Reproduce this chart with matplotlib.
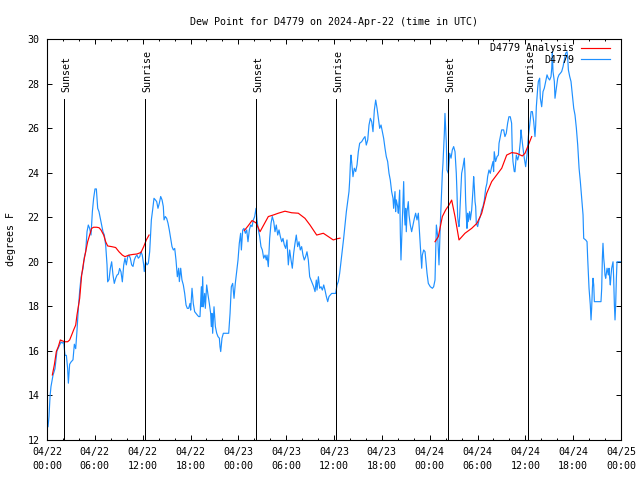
import matplotlib
matplotlib.use('Agg')
import matplotlib.pyplot as plt
import matplotlib.dates as mdates
import numpy as np
from datetime import datetime

plt.rcParams['font.family'] = ['DejaVu Sans Mono', 'DejaVu Sans']
plt.rcParams['font.size'] = 7.2

start = datetime(2024, 4, 22)

# station observations: hours after 04/22 00:00 UTC, dew point in F
blue_h = [
    0.13, 0.25, 0.38, 0.5, 0.75, 1.0, 1.25, 1.5, 1.76, 1.92, 2.09, 2.26, 2.43, 2.59, 2.68, 2.84,
    3.01, 3.26, 3.43, 3.6, 3.76, 3.93, 4.1, 4.27, 4.52, 4.68, 4.85, 5.02, 5.18, 5.35, 5.52, 5.69,
    5.85, 6.02, 6.19, 6.27, 6.36, 6.52, 6.69, 6.86, 7.02, 7.19, 7.36, 7.53, 7.61, 7.78, 7.94, 8.11,
    8.28, 8.44, 8.61, 8.78, 8.95, 9.11, 9.28, 9.45, 9.62, 9.78, 9.95, 10.12, 10.29, 10.45, 10.62,
    10.79, 10.95, 11.12, 11.29, 11.45, 11.63, 11.79, 11.95, 12.13, 12.2, 12.37, 12.54, 12.71, 12.88,
    13.09, 13.25, 13.42, 13.59, 13.76, 13.92, 14.09, 14.26, 14.43, 14.59, 14.68, 14.84, 15.01, 15.18,
    15.34, 15.51, 15.68, 15.85, 16.02, 16.18, 16.35, 16.52, 16.6, 16.77, 16.93, 17.1, 17.27, 17.44,
    17.6, 17.77, 17.94, 18.02, 18.19, 18.35, 18.52, 18.69, 18.85, 19.02, 19.19, 19.36, 19.44, 19.53,
    19.61, 19.78, 19.86, 20.03, 20.2, 20.36, 20.53, 20.61, 20.7, 20.78, 20.95, 21.12, 21.29, 21.45,
    21.62, 21.7, 21.79, 21.95, 22.12, 22.45, 22.79, 22.96, 23.12, 23.29, 23.46, 23.62, 23.79, 23.96,
    24.12, 24.29, 24.38, 24.55, 24.71, 24.88, 25.05, 25.21, 25.38, 25.55, 25.72, 25.88, 26.05,
    26.22, 26.34, 26.51, 26.68, 26.84, 27.01, 27.18, 27.35, 27.51, 27.6, 27.76, 27.93, 28.1, 28.26,
    28.44, 28.6, 28.76, 28.94, 29.1, 29.27, 29.44, 29.6, 29.77, 29.94, 30.1, 30.27, 30.44, 30.61,
    30.77, 30.94, 31.11, 31.27, 31.44, 31.61, 31.77, 31.94, 32.11, 32.27, 32.44, 32.61, 32.78, 32.95,
    33.12, 33.28, 33.45, 33.62, 33.78, 33.87, 34.04, 34.2, 34.37, 34.54, 34.71, 34.87, 35.04, 35.21,
    35.37, 35.54, 35.71, 35.96, 36.21,
    36.38, 36.54, 36.71, 36.88, 37.04, 37.21, 37.38, 37.55, 37.72, 37.88, 37.97, 38.05, 38.13, 38.21,
    38.38, 38.55, 38.72, 38.89, 39.05, 39.22, 39.47, 39.72, 39.89, 40.05, 40.23, 40.39, 40.56, 40.73,
    40.89, 41.06, 41.23, 41.4, 41.56, 41.73, 41.9, 42.06, 42.23, 42.4, 42.56, 42.73, 42.9, 43.06,
    43.23, 43.4, 43.48, 43.65, 43.73, 43.81, 43.98, 44.07, 44.24, 44.32, 44.4, 44.49, 44.57, 44.74,
    44.82, 44.91, 44.99, 45.07, 45.16, 45.32, 45.41, 45.57, 45.74, 45.91, 46.08, 46.24, 46.41, 46.58,
    46.74, 46.91, 47.0, 47.08, 47.25, 47.42,
    47.67, 47.83, 48.08, 48.34, 48.5, 48.67, 48.84, 49.01, 49.17, 49.26, 49.34, 49.51, 49.59, 49.67,
    49.84, 49.92, 50.01, 50.09, 50.17, 50.34, 50.51, 50.68, 50.84, 51.01, 51.18, 51.34, 51.43, 51.51,
    51.6, 51.68, 51.76, 51.85, 51.93, 52.01, 52.18, 52.35, 52.43, 52.51, 52.6, 52.68, 52.76, 52.84,
    53.01, 53.1, 53.27, 53.43, 53.52, 53.6, 53.69, 53.77, 53.85, 54.02, 54.19, 54.36, 54.52, 54.69,
    54.86, 55.03, 55.18, 55.27, 55.44, 55.6, 55.78, 55.94, 56.02, 56.1, 56.27, 56.45, 56.62, 56.7,
    56.86, 57.03, 57.28, 57.44, 57.61, 57.78, 57.94, 58.11, 58.28, 58.36, 58.45, 58.53, 58.61,
    58.7, 58.87, 59.04, 59.2, 59.37, 59.46, 59.54, 59.71, 59.87, 60.04, 60.21, 60.38, 60.55, 60.72,
    60.88, 61.05, 61.21, 61.3, 61.38, 61.55, 61.63, 61.8, 61.88, 62.05, 62.22, 62.38, 62.55, 62.72,
    62.88, 63.05, 63.22, 63.31, 63.39, 63.47, 63.64, 63.72, 63.89, 64.06, 64.22, 64.39, 64.56, 64.73,
    64.9, 65.06, 65.23, 65.32, 65.4, 65.57, 65.73, 65.9, 66.07, 66.23, 66.4, 66.57, 66.74, 66.9,
    67.07, 67.24, 67.32, 67.57, 67.74, 67.82, 67.9, 67.99, 68.15, 68.24, 68.32, 68.41, 68.49, 68.58,
    68.66, 68.83, 69.16, 69.49, 69.58, 69.66, 69.74, 69.83, 69.91, 69.99, 70.08, 70.25, 70.41, 70.5,
    70.58, 70.66, 70.75, 70.83, 71.0, 71.08, 71.17, 71.25, 71.33, 71.42, 71.5, 71.67, 71.92,
]
blue_v = [
    12.6, 13.05, 13.95, 14.4, 14.9, 15.2, 16.0, 16.2, 16.4, 16.35, 16.4, 15.8, 15.8, 15.2, 14.55, 15.4,
    15.5, 15.6, 16.3, 16.1, 16.9, 17.9, 18.7, 19.3, 19.7, 20.2, 20.45, 21.35, 21.65, 21.5, 21.2, 22.25,
    22.85, 23.27, 23.27, 22.85, 22.4, 22.25, 21.95, 21.65, 21.35, 21.2, 20.75, 19.86, 19.1, 19.2, 19.7, 20.0,
    19.4, 19.03, 19.25, 19.4, 19.45, 19.7, 19.55, 19.1, 19.85, 20.16, 19.86, 20.23, 20.3, 20.16, 19.86,
    19.79, 20.08, 20.23, 20.3, 20.16, 20.23, 20.45, 20.3, 19.86, 19.56, 20.0, 19.86, 19.93, 20.45,
    21.88, 22.33, 22.85, 22.78, 22.7, 22.4, 22.63, 22.93, 22.78, 22.48, 21.88, 22.03, 21.95, 21.73,
    21.43, 21.05, 20.68, 20.53, 20.6, 20.08, 19.33, 19.71, 19.11, 19.71, 19.18, 18.96, 18.58, 18.06,
    17.91, 17.91, 18.13, 17.83, 18.81, 18.13, 17.76, 17.68, 17.61, 17.54, 17.54, 18.88, 17.98, 19.33,
    17.98, 18.58, 17.91, 18.96, 18.51, 18.13, 17.68, 17.09, 17.68, 16.79, 17.98, 17.09, 16.79, 16.64,
    16.57, 16.19, 15.97, 16.57, 16.79, 16.79, 16.79, 17.68, 18.88, 19.03, 18.36, 19.03, 19.56, 20.08,
    20.83, 21.28, 20.53, 21.43, 21.5, 21.28, 21.43, 20.9, 21.43, 21.65, 21.58, 21.88, 22.03,
    22.4, 21.88, 21.43, 21.13, 20.68, 20.53, 20.16, 20.3, 20.08, 20.3, 19.78, 21.05, 21.73, 22.03,
    21.8, 21.35, 21.65, 21.2, 21.43, 21.13, 20.9, 21.05, 20.75, 20.6, 20.98, 19.86, 20.53, 20.08,
    19.71, 20.38, 20.83, 21.2, 20.68, 20.9, 20.53, 20.68, 20.3, 20.08, 20.23, 20.45, 20.08, 19.33,
    19.18, 19.03, 18.88, 18.66, 19.18, 18.73, 19.33, 18.81, 18.88, 18.73, 18.96, 18.73, 18.44, 18.21,
    18.44, 18.51, 18.58, 18.58, 18.58,
    18.96, 19.11, 19.48, 20.0, 20.53, 21.05, 21.65, 22.25, 22.7, 23.15, 23.67, 24.35, 24.79, 24.5,
    23.82, 24.2, 24.05, 24.35, 24.94, 25.32, 25.39, 25.54, 25.62, 25.24, 25.47, 26.14, 26.44, 26.29,
    25.84, 26.81, 27.26, 26.89, 26.44, 25.99, 26.14, 25.84, 25.54, 25.09, 24.72, 24.5, 23.97, 23.67,
    23.15, 22.85, 22.4, 23.15, 22.25, 22.78, 22.48, 22.18, 23.22, 21.28, 20.08, 21.05, 21.8, 23.6,
    22.25, 21.65, 22.4, 21.35, 22.25, 22.7, 22.1, 21.65, 21.35, 21.65, 21.95, 22.18, 21.88, 22.18,
    21.2, 20.23, 19.71, 20.3, 20.53, 20.45,
    19.48, 19.03, 18.88, 18.81, 18.88, 19.18, 21.65, 21.13, 19.86, 20.9, 21.73, 23.22, 23.97, 24.42,
    25.77, 26.66, 26.0, 25.32, 24.12, 23.97, 24.87, 24.65, 25.02, 25.17, 24.94, 23.97, 23.07, 22.03,
    21.73, 21.58, 22.03, 22.77, 23.37, 23.97, 24.27, 24.65, 23.97, 22.77, 22.03, 21.5, 22.18, 21.8,
    22.25, 21.88, 22.33, 23.22, 23.82, 23.37, 22.7, 22.48, 21.73, 21.58, 21.88, 22.03, 22.33, 22.48,
    22.77, 23.3, 23.52, 23.82, 24.12, 23.97, 24.27, 24.5, 24.05, 24.94, 24.5, 24.72, 24.79, 25.32,
    25.62, 25.92, 25.92, 25.62, 25.77, 26.22, 26.51, 26.51, 26.22, 25.02, 24.5, 24.27, 24.05,
    24.04, 24.79, 24.57, 24.79, 25.39, 25.92, 25.62, 25.09, 24.65, 24.27, 24.79, 25.62, 26.14, 26.74,
    26.74, 26.29, 25.62, 26.14, 26.96, 27.79, 28.09, 28.24, 27.34, 26.96, 27.64, 27.79, 28.09, 28.39,
    28.24, 28.16, 28.31, 28.68, 29.43, 28.54, 28.09, 27.34, 27.79, 28.24, 28.39, 28.46, 28.54, 28.76,
    29.06, 29.36, 29.43, 29.13, 28.61, 28.31, 28.09, 27.49, 26.89, 26.59, 26.0, 25.24, 24.2, 23.6,
    22.85, 22.1, 21.05, 20.98, 20.9, 20.16, 19.56, 18.81, 18.06, 17.39, 17.91, 18.81, 19.26, 18.96,
    18.21, 18.21, 18.21, 18.21, 18.81, 20.16, 20.83, 20.16, 19.86, 19.41, 19.26, 19.71, 19.41, 19.71,
    19.26, 18.96, 19.41, 19.71, 20.0, 19.26, 18.06, 17.39, 18.06, 19.26, 20.0, 20.0, 20.0,
]

# analysis series, NaN marks the gaps between the three pieces
red_h = [
    0.67, 0.92, 1.17, 1.42, 1.67, 1.92, 2.26, 2.59, 2.84, 3.09, 3.34, 3.6, 3.76, 4.1, 4.35, 4.6,
    4.85, 5.1, 5.35, 5.6, 5.85, 6.23, 6.52, 6.77, 7.11, 7.36, 7.61, 8.11, 8.61, 9.03, 9.45, 9.78,
    10.29, 10.79, 11.29, 11.79, 12.13, 12.46, 12.8,
    18.0,
    24.75, 25.2, 25.72, 26.22, 26.72, 27.76, 28.39, 29.01, 29.85, 30.69, 31.52, 32.36, 32.99, 33.4,
    33.83, 34.66, 35.29, 35.91, 36.34, 36.75,
    42.0,
    48.67, 49.09, 49.59, 50.01, 50.43, 50.76, 51.18, 51.68, 52.43, 53.27, 53.94, 54.53, 55.15, 55.78,
    56.41, 57.04, 57.66, 58.29, 58.92, 59.62, 59.96, 60.38, 60.8,
]
red_v = [
    14.92, 15.37, 15.97, 16.19, 16.49, 16.45, 16.41, 16.41, 16.49, 16.71, 16.94, 17.16, 17.61, 18.36,
    19.41, 20.0, 20.45, 20.9, 21.2, 21.5, 21.55, 21.55, 21.53, 21.43, 21.2, 20.9, 20.71, 20.68, 20.64,
    20.45, 20.3, 20.23, 20.3, 20.33, 20.35, 20.42, 20.68, 20.98, 21.2,
    np.nan,
    21.4, 21.6, 21.85, 21.75, 21.35, 22.03, 22.1, 22.18, 22.27, 22.2, 22.18, 21.95, 21.65, 21.43,
    21.2, 21.28, 21.13, 20.98, 21.03, 21.06,
    np.nan,
    20.9, 21.13, 22.03, 22.33, 22.55, 22.77, 22.03, 20.98, 21.28, 21.5, 21.73, 22.18, 23.07, 23.6,
    23.9, 24.2, 24.79, 24.9, 24.87, 24.75, 24.87, 25.24, 25.62,
]

event_h = [2.13, 12.33, 26.25, 36.29, 50.34, 60.37]
event_lbl = ['Sunset', 'Sunrise', 'Sunset', 'Sunrise', 'Sunset', 'Sunrise']


def to_num(hours):
    return mdates.date2num(start) + np.asarray(hours, dtype=float) / 24.0


fig = plt.figure(figsize=(6.4, 4.8), dpi=100)
ax = fig.add_axes([47 / 640, 40 / 480, 574 / 640, 401 / 480])

blue, = ax.plot(to_num(blue_h), blue_v, color='#1e90ff', lw=0.85, label='D4779', zorder=2)
red, = ax.plot(to_num(red_h), red_v, color='#ff0000', lw=0.85, label='D4779 Analysis', zorder=3)

for h, lbl in zip(event_h, event_lbl):
    x = to_num([h])[0]
    ax.vlines(x, 12, 27.3, color='black', lw=0.6, antialiased=False, zorder=4)
    ax.text(to_num([h + 0.3])[0], 27.6, lbl, rotation=90, ha='center', va='bottom', zorder=5)

ax.set_xlim(mdates.date2num(start), to_num([72])[0])
ax.set_ylim(12, 30)
ax.set_yticks(np.arange(12, 31, 2))
ax.xaxis.set_major_locator(mdates.HourLocator(byhour=range(0, 24, 6)))
ax.xaxis.set_minor_locator(mdates.HourLocator(byhour=range(0, 24, 2)))
ax.xaxis.set_major_formatter(mdates.DateFormatter('%m/%d\n%H:%M'))
for t in ax.get_xticklabels():
    t.set_linespacing(1.45)

ax.tick_params(which='both', direction='in', top=True, right=True, width=0.7, colors='black')
ax.tick_params(which='major', length=3.3)
ax.tick_params(which='minor', length=1.7)
ax.tick_params(axis='x', pad=5)
ax.tick_params(axis='y', pad=5.5)
for s in ax.spines.values():
    s.set_linewidth(0.8)

ax.set_title('Dew Point for D4779 on 2024-Apr-22 (time in UTC)', fontsize=7.2, pad=10)
ax.set_ylabel('degrees F', labelpad=8)

ax.legend(handles=[red, blue], loc='upper right', bbox_to_anchor=(0.981, 0.99),
          markerfirst=False, frameon=False, borderaxespad=0, borderpad=0,
          handlelength=2.9, handletextpad=0.7, labelspacing=0.15)

fig.savefig('out.png', dpi=100)
